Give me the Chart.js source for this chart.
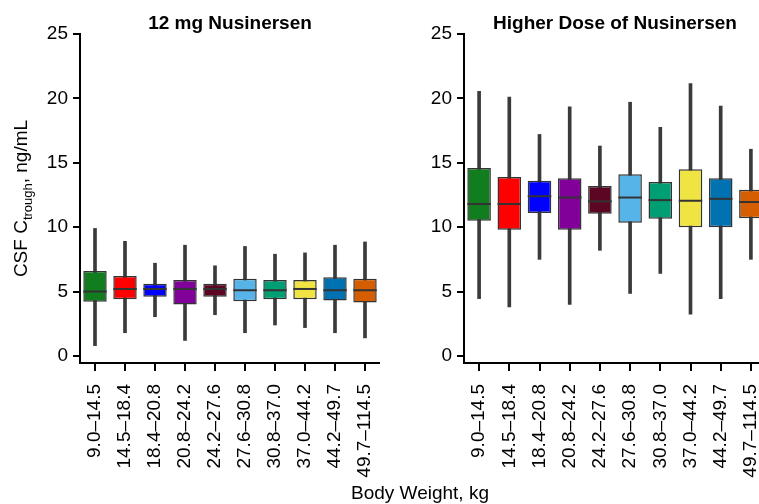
<!DOCTYPE html>
<html>
<head>
<meta charset="utf-8">
<script src="https://cdn.jsdelivr.net/npm/chart.js@4.4.1/dist/chart.umd.min.js"></script>
<style>
  html, body { margin: 0; padding: 0; width: 759px; height: 504px; overflow: hidden; background: #fff; }
  #left { position: absolute; left: 0; top: 0; }
  #right { position: absolute; left: 380px; top: 0; }
  #xTitle {
    position: absolute; left: 270px; width: 300px; top: 483px;
    text-align: center; font: 19px "Liberation Sans", Arial, sans-serif; color: #000; line-height: 1;
  }
</style>
</head>
<body>
<canvas id="left" width="380" height="504"></canvas>
<canvas id="right" width="390" height="504"></canvas>
<div id="xTitle">Body Weight, kg</div>
<script>
const categories = ["9.0–14.5", "14.5–18.4", "18.4–20.8", "20.8–24.2", "24.2–27.6",
                    "27.6–30.8", "30.8–37.0", "37.0–44.2", "44.2–49.7", "49.7–114.5"];
const boxColors = ["#117d1e", "#ff0000", "#0000ff", "#800099", "#5c0623",
                   "#56b4e9", "#009e73", "#f0e442", "#0072b2", "#d55e00"];
const yTickValues = [0, 5, 10, 15, 20, 25];

// 12 mg panel
const lowMin    = [0.8, 1.8, 3.05, 1.2, 3.2, 1.8, 2.4, 2.2, 1.8, 1.4];
const lowQ1     = [4.2, 4.4, 4.6, 4.0, 4.6, 4.25, 4.4, 4.4, 4.3, 4.15];
const lowMedian = [5.0, 5.2, 5.2, 5.2, 5.2, 5.1, 5.1, 5.2, 5.1, 5.1];
const lowQ3     = [6.6, 6.2, 5.6, 5.9, 5.6, 6.0, 5.9, 5.9, 6.1, 6.0];
const lowMax    = [9.9, 8.9, 7.2, 8.6, 7.0, 8.5, 7.9, 8.0, 8.6, 8.85];

// higher dose panel
const highMin    = [4.45, 3.8, 7.5, 4.0, 8.2, 4.85, 6.4, 3.25, 4.45, 7.5];
const highQ1     = [10.5, 9.8, 11.1, 9.8, 11.05, 10.35, 10.65, 10.0, 10.0, 10.7];
const highMedian = [11.8, 11.8, 12.4, 12.3, 12.0, 12.3, 12.1, 12.05, 12.2, 11.95];
const highQ3     = [14.6, 13.9, 13.6, 13.8, 13.2, 14.1, 13.5, 14.5, 13.8, 12.9];
const highMax    = [20.55, 20.1, 17.2, 19.35, 16.3, 19.7, 17.75, 21.15, 19.4, 16.05];

const FONT = '"Liberation Sans", Arial, sans-serif';

// median line across each box, placed with the chart's own y scale
const medianLines = {
  id: "medianLines",
  afterDatasetsDraw(chart, args, opts) {
    const meta = chart.getDatasetMeta(1);
    const y = chart.scales.y;
    const ctx = chart.ctx;
    ctx.save();
    ctx.strokeStyle = "#333";
    ctx.lineWidth = 2;
    meta.data.forEach((bar, i) => {
      const py = y.getPixelForValue(opts.values[i]);
      ctx.beginPath();
      ctx.moveTo(bar.x - bar.width / 2, py);
      ctx.lineTo(bar.x + bar.width / 2, py);
      ctx.stroke();
    });
    ctx.restore();
  }
};

// panel title centred over the plot area
const panelTitle = {
  id: "panelTitle",
  afterDraw(chart, args, opts) {
    const a = chart.chartArea;
    const ctx = chart.ctx;
    ctx.save();
    ctx.font = "bold 19px " + FONT;
    ctx.fillStyle = "#000";
    ctx.textAlign = "center";
    ctx.textBaseline = "alphabetic";
    ctx.fillText(opts.text, (a.left + a.right) / 2, 29);
    ctx.restore();
  }
};

// y title with subscript
const yTitle = {
  id: "yTitle",
  afterDraw(chart, args, opts) {
    if (!opts.show) return;
    const a = chart.chartArea;
    const ctx = chart.ctx;
    const parts = [["CSF C", 19, 0], ["trough", 13, 5], [", ng/mL", 19, 0]];
    ctx.save();
    let total = 0;
    parts.forEach(p => { ctx.font = p[1] + "px " + FONT; total += ctx.measureText(p[0]).width; });
    ctx.translate(27, (a.top + a.bottom) / 2);
    ctx.rotate(-Math.PI / 2);
    ctx.fillStyle = "#000";
    ctx.textBaseline = "alphabetic";
    ctx.textAlign = "left";
    let x = -total / 2;
    parts.forEach(p => {
      ctx.font = p[1] + "px " + FONT;
      ctx.fillText(p[0], x, p[2]);
      x += ctx.measureText(p[0]).width;
    });
    ctx.restore();
  }
};

function makeChart(id, title, mins, q1s, medians, q3s, maxs, yWidth, rightPad, showYTitle) {
  return new Chart(document.getElementById(id), {
    type: "bar",
    data: {
      labels: categories,
      datasets: [
        {
          label: "whisker",
          data: categories.map((c, i) => [mins[i], maxs[i]]),
          backgroundColor: "#3a3a3a",
          borderWidth: 0,
          barThickness: 3,
          grouped: false,
          order: 2
        },
        {
          label: "box",
          data: categories.map((c, i) => [q1s[i], q3s[i]]),
          backgroundColor: boxColors,
          borderColor: "#333",
          borderWidth: 1.5,
          borderSkipped: false,
          barPercentage: 0.78,
          categoryPercentage: 1,
          grouped: false,
          order: 1
        }
      ]
    },
    options: {
      responsive: false,
      animation: false,
      layout: { padding: { top: 34, right: rightPad, left: 0, bottom: 0 } },
      plugins: {
        legend: { display: false },
        tooltip: { enabled: false },
        medianLines: { values: medians },
        panelTitle: { text: title },
        yTitle: { show: showYTitle }
      },
      scales: {
        x: {
          offset: true,
          grid: { offset: false, drawOnChartArea: false, drawTicks: true, tickLength: 8, color: "#000", lineWidth: 2 },
          border: { color: "#000", width: 2 },
          ticks: {
            autoSkip: false, minRotation: 90, maxRotation: 90, padding: 13,
            color: "#000", font: { family: FONT, size: 19 }
          },
          afterFit(s) { s.height = 141; s.paddingLeft = 0; s.paddingRight = 0; }
        },
        y: {
          min: -0.55,
          max: 25,
          afterBuildTicks(s) { s.ticks = yTickValues.map(v => ({ value: v })); },
          grid: { drawOnChartArea: false, drawTicks: true, tickLength: 7, color: "#000", lineWidth: 2 },
          border: { color: "#000", width: 2 },
          ticks: { padding: 5, color: "#000", font: { family: FONT, size: 19 } },
          afterFit(s) { s.width = yWidth; }
        }
      }
    },
    plugins: [medianLines, panelTitle, yTitle]
  });
}

makeChart("left", "12 mg Nusinersen", lowMin, lowQ1, lowMedian, lowQ3, lowMax, 80, 0, true);
makeChart("right", "Higher Dose of Nusinersen", highMin, highQ1, highMedian, highQ3, highMax, 84, 4, false);
</script>
</body>
</html>
